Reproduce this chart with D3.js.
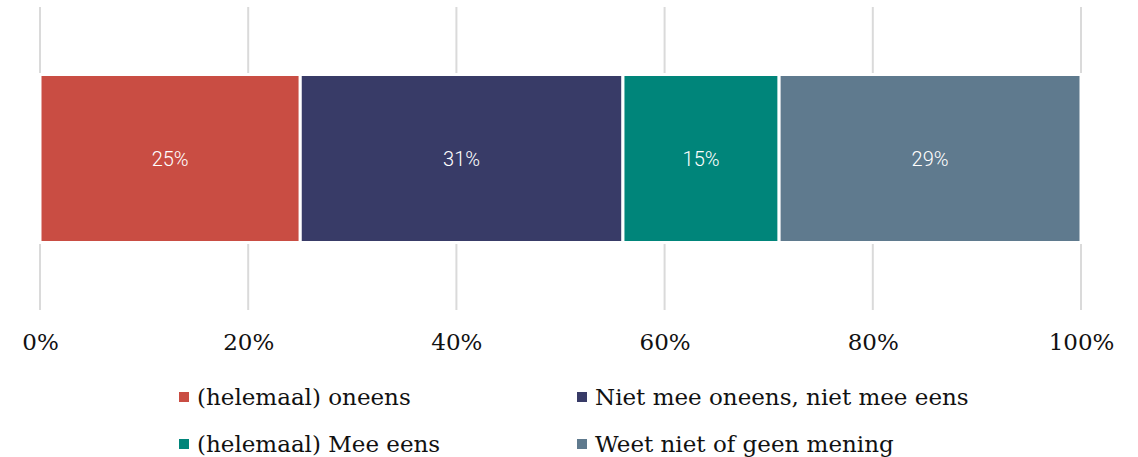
<!DOCTYPE html>
<html>
<head>
<meta charset="utf-8">
<script src="https://cdn.jsdelivr.net/npm/d3@7.9.0/dist/d3.min.js"></script>
<style>
  body { margin: 0; background: #fff; }
  svg { display: block; }
</style>
</head>
<body>
<svg width="1138" height="457"></svg>
<script>
// data
const categories = ["(helemaal) oneens", "Niet mee oneens, niet mee eens", "(helemaal) Mee eens", "Weet niet of geen mening"];
const values = [25, 31, 15, 29];
const colors = ["#c94d43", "#383b67", "#00857a", "#5f7a8e"];
const ticks = [0, 20, 40, 60, 80, 100];

const svg = d3.select("svg");
const x = d3.scaleLinear().domain([0, 100]).range([40, 1081]);

// grid lines, broken around the bar
const grid = svg.append("g");
ticks.forEach(t => {
  grid.append("line").attr("x1", x(t)).attr("x2", x(t)).attr("y1", 7).attr("y2", 73)
    .attr("stroke", "#dadada").attr("stroke-width", 2);
  grid.append("line").attr("x1", x(t)).attr("x2", x(t)).attr("y1", 244).attr("y2", 310)
    .attr("stroke", "#dadada").attr("stroke-width", 2);
});

// stacked segments
let acc = 0;
const segs = values.map((v, i) => {
  const s = { start: acc, end: acc + v, value: v, color: colors[i] };
  acc += v;
  return s;
});

const barTop = 74.5, barH = 168;
svg.append("g").selectAll("rect").data(segs).join("rect")
  .attr("x", d => x(d.start))
  .attr("width", d => x(d.end) - x(d.start))
  .attr("y", barTop)
  .attr("height", barH)
  .attr("fill", d => d.color)
  .attr("stroke", "#fff")
  .attr("stroke-width", 3);

svg.append("g").selectAll("text").data(segs).join("text")
  .attr("x", d => (x(d.start) + x(d.end)) / 2)
  .attr("y", barTop + barH / 2)
  .attr("text-anchor", "middle")
  .attr("dominant-baseline", "central")
  .attr("fill", "#fff")
  .attr("font-family", "Roboto")
  .attr("font-weight", 300)
  .attr("font-size", 20)
  .text(d => d.value + "%");

// x axis labels
const axis = d3.axisBottom(x).tickValues(ticks).tickSize(0).tickFormat(d => d + "%");
const ax = svg.append("g").attr("transform", "translate(0,330)").call(axis);
ax.select(".domain").remove();
ax.selectAll("text")
  .attr("font-family", "DejaVu Serif")
  .attr("font-size", 23)
  .attr("fill", "#111")
  .attr("dy", "0.71em")
  .attr("y", 4);

// legend
const legendPos = [[179, 397], [577, 397], [179, 444], [577, 444]];
const lg = svg.append("g").selectAll("g").data(categories).join("g")
  .attr("transform", (d, i) => `translate(${legendPos[i][0]},${legendPos[i][1]})`);
lg.append("rect").attr("x", 0).attr("y", -5).attr("width", 10).attr("height", 10)
  .attr("fill", (d, i) => colors[i]);
lg.append("text").attr("x", 18).attr("y", 0)
  .attr("dominant-baseline", "central")
  .attr("font-family", "DejaVu Serif")
  .attr("font-size", 23)
  .attr("fill", "#111")
  .text(d => d);
</script>
</body>
</html>
